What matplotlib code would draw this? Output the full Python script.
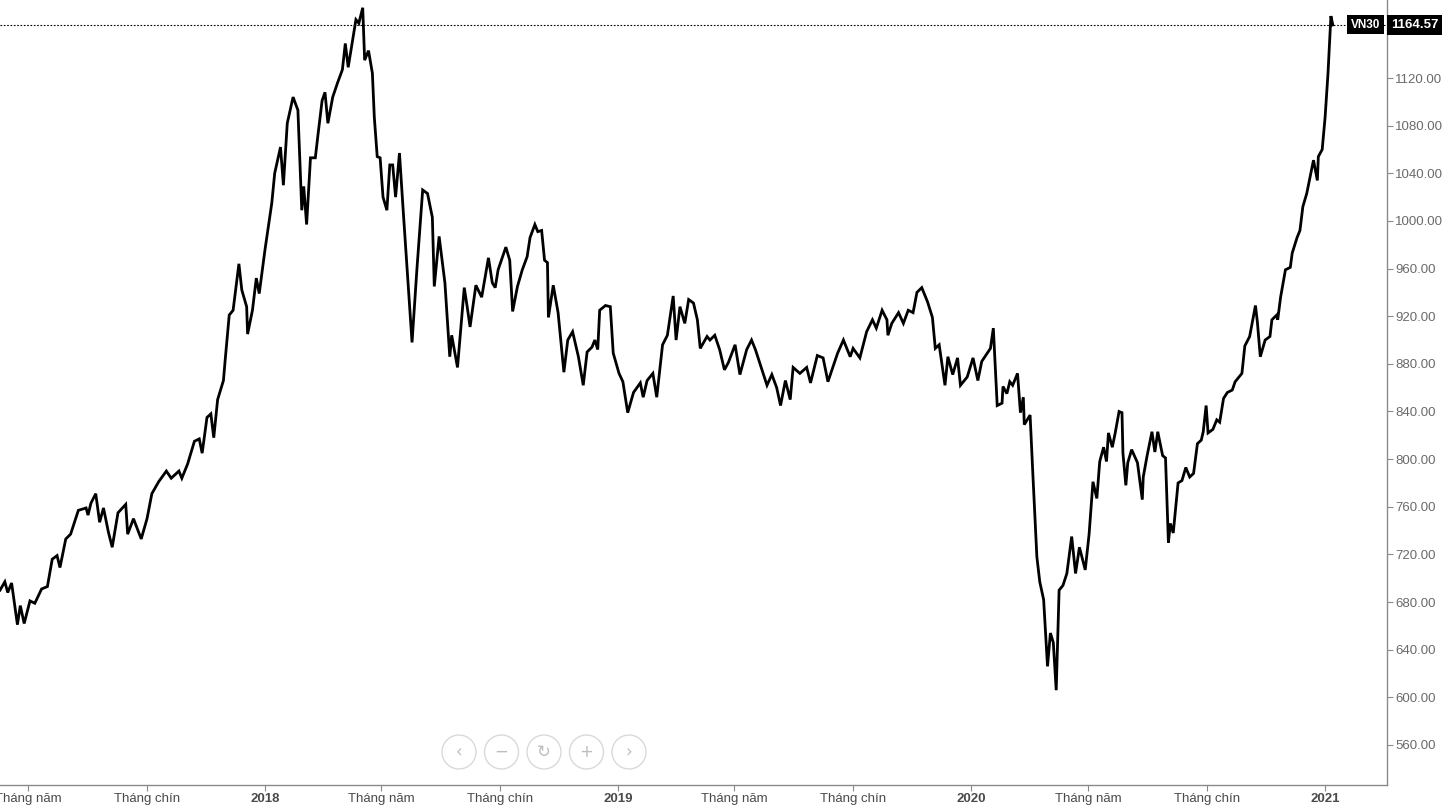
import matplotlib
matplotlib.use('Agg')
import matplotlib.pyplot as plt
import matplotlib.transforms as mtransforms
from matplotlib.patches import Ellipse
import pandas as pd

plt.rcParams['font.family'] = ['Liberation Sans', 'DejaVu Sans']

# VN30 closes (month-day, value) by year
d2017 = ['04-02', '04-07', '04-10', '04-14', '04-20', '04-23', '04-27', '05-03', '05-08', '05-15',
         '05-21', '05-26', '05-31', '06-03', '06-09', '06-14', '06-22', '06-30', '07-02', '07-05',
         '07-10', '07-14', '07-18', '07-23', '07-27', '08-02', '08-10', '08-12', '08-18', '08-26',
         '09-01', '09-06', '09-13', '09-21', '09-26', '10-04', '10-07', '10-13', '10-20', '10-25',
         '10-28', '11-02', '11-06', '11-09', '11-13', '11-19', '11-21', '11-25', '11-29', '12-05',
         '12-08', '12-13', '12-14', '12-19', '12-23', '12-26']
v2017 = [690, 697, 688, 696, 661, 677, 662, 681, 679, 691,
         693, 716, 719, 709, 733, 737, 757, 759, 753, 763,
         771, 747, 759, 739, 726, 755, 762, 737, 750, 733,
         750, 771, 781, 790, 784, 790, 784, 796, 815, 817,
         805, 835, 838, 818, 850, 866, 885, 921, 925, 964,
         942, 928, 905, 925, 952, 939]

d2018 = ['01-01', '01-08', '01-11', '01-17', '01-20', '01-24', '01-30', '02-04', '02-08', '02-10',
         '02-13', '02-17', '02-22', '02-25', '03-01', '03-04', '03-07', '03-12', '03-17', '03-22',
         '03-25', '03-28', '04-01', '04-05', '04-08', '04-12', '04-14', '04-18', '04-22', '04-24',
         '04-27', '04-30', '05-03', '05-07', '05-10', '05-13', '05-16', '05-20', '05-24', '05-28',
         '06-02', '06-07', '06-13', '06-18', '06-23', '06-25', '06-30', '07-06', '07-11', '07-13',
         '07-19', '07-26', '07-29', '08-01', '08-07', '08-13', '08-20', '08-24', '08-27', '08-30',
         '09-07', '09-11', '09-14', '09-19', '09-24', '09-29', '10-02', '10-07', '10-10', '10-14',
         '10-17', '10-20', '10-21', '10-26', '10-31', '11-06', '11-10', '11-15', '11-21', '11-26',
         '11-30', '12-05', '12-08', '12-11', '12-13', '12-19', '12-24', '12-27']
v2018 = [976, 1015, 1040, 1062, 1030, 1082, 1104, 1093, 1009, 1029,
         997, 1053, 1053, 1074, 1101, 1108, 1082, 1104, 1116, 1127,
         1149, 1129, 1149, 1169, 1166, 1179, 1135, 1143, 1124, 1087,
         1054, 1053, 1020, 1009, 1047, 1047, 1020, 1057, 1007, 959,
         898, 959, 1026, 1023, 1003, 945, 987, 948, 886, 904,
         877, 944, 928, 911, 946, 936, 969, 948, 944, 959,
         978, 967, 924, 945, 959, 970, 986, 997, 991, 992,
         967, 965, 919, 946, 923, 873, 900, 907, 886, 862,
         890, 894, 900, 892, 925, 929, 928, 889]

d2019 = ['01-02', '01-06', '01-11', '01-17', '01-24', '01-27', '01-31', '02-06', '02-10', '02-16',
         '02-21', '02-27', '03-02', '03-06', '03-11', '03-15', '03-20', '03-24', '03-27', '04-03',
         '04-06', '04-11', '04-16', '04-21', '04-25', '05-02', '05-07', '05-14', '05-19', '05-23',
         '05-27', '06-04', '06-09', '06-14', '06-18', '06-23', '06-28', '07-01', '07-08', '07-15',
         '07-19', '07-26', '08-01', '08-06', '08-11', '08-16', '08-22', '08-29', '09-01', '09-08',
         '09-15', '09-21', '09-25', '10-01', '10-06', '10-07', '10-11', '10-18', '10-23', '10-28',
         '11-02', '11-06', '11-11', '11-17', '11-22', '11-25', '11-29', '12-05', '12-08', '12-13',
         '12-18', '12-21', '12-28']
v2019 = [872, 865, 839, 856, 864, 852, 866, 872, 852, 896,
         904, 937, 900, 928, 914, 934, 931, 917, 893, 903,
         900, 904, 892, 875, 881, 896, 871, 892, 900, 892,
         882, 862, 871, 860, 845, 866, 850, 877, 872, 877,
         864, 887, 885, 865, 877, 889, 900, 886, 893, 885,
         907, 917, 910, 925, 917, 904, 914, 923, 914, 925,
         923, 940, 944, 932, 919, 893, 896, 862, 886, 871,
         885, 862, 869]

d2020 = ['01-03', '01-08', '01-12', '01-21', '01-24', '01-28', '02-02', '02-03', '02-07', '02-10',
         '02-13', '02-18', '02-21', '02-24', '02-25', '03-02', '03-05', '03-09', '03-12', '03-16',
         '03-20', '03-23', '03-26', '03-29', '04-01', '04-05', '04-09', '04-14', '04-18', '04-22',
         '04-28', '05-02', '05-06', '05-10', '05-13', '05-17', '05-20', '05-22', '05-26', '05-29',
         '06-02', '06-05', '06-06', '06-09', '06-11', '06-15', '06-21', '06-26', '06-27', '07-01',
         '07-06', '07-09', '07-12', '07-17', '07-20', '07-23', '07-25', '07-28', '08-02', '08-06',
         '08-10', '08-14', '08-18', '08-22', '08-26', '08-28', '08-31', '09-02', '09-07', '09-11',
         '09-14', '09-18', '09-22', '09-27', '09-30', '10-07', '10-10', '10-15', '10-21', '10-23',
         '10-26', '10-31', '11-05', '11-07', '11-12', '11-13', '11-16', '11-21', '11-26', '11-28',
         '12-03', '12-06', '12-09', '12-13', '12-17', '12-20', '12-24', '12-25', '12-29']
v2020 = [885, 866, 882, 893, 910, 845, 847, 861, 855, 865,
         862, 872, 839, 852, 829, 837, 785, 718, 697, 682,
         626, 654, 646, 606, 690, 694, 704, 735, 704, 726,
         707, 737, 781, 767, 798, 810, 798, 822, 810, 822,
         840, 839, 805, 778, 797, 808, 797, 766, 785, 803,
         823, 806, 823, 803, 801, 730, 746, 738, 780, 782,
         793, 785, 788, 813, 816, 823, 845, 822, 825, 833,
         831, 851, 856, 858, 865, 872, 895, 903, 929, 915,
         886, 900, 903, 917, 921, 917, 936, 959, 961, 973,
         986, 992, 1012, 1023, 1039, 1051, 1034, 1054, 1060]

d2021 = ['01-01', '01-04', '01-07', '01-09']
v2021 = [1087, 1124, 1172, 1164.57]

last_value = 1164.57
series_name = 'VN30'

tick_dates = ['2017-05-01', '2017-09-01', '2018-01-01', '2018-05-01', '2018-09-01', '2019-01-01',
              '2019-05-01', '2019-09-01', '2020-01-01', '2020-05-01', '2020-09-01', '2021-01-01']
tick_labels = ['Tháng năm', 'Tháng chín', '2018', 'Tháng năm', 'Tháng chín', '2019',
               'Tháng năm', 'Tháng chín', '2020', 'Tháng năm', 'Tháng chín', '2021']
y_ticks = list(range(560, 1121, 40))

dates = []
values = []
for year, ds, vs in [(2017, d2017, v2017), (2018, d2018, v2018), (2019, d2019, v2019),
                     (2020, d2020, v2020), (2021, d2021, v2021)]:
    dates += [f'{year}-{d}' for d in ds]
    values += vs
dates = pd.to_datetime(dates)

fig = plt.figure(figsize=(14.44, 8.11), dpi=100)
ax = fig.add_axes([0, 1 - 785 / 811, 1387 / 1444, 785 / 811])

ax.plot(dates, values, color='black', lw=2.0, solid_joinstyle='miter')

# dotted last-price line
ax.axhline(last_value, color='black', lw=0.8, ls=(0, (1.5, 1.5)), zorder=1)

ax.set_xlim(pd.Timestamp('2017-04-02'), pd.Timestamp('2021-03-06'))
ax.set_ylim(526.4, 1185.5)

ax.set_xticks(pd.to_datetime(tick_dates))
ax.set_xticklabels(tick_labels)
for lbl in ax.get_xticklabels():
    if lbl.get_text().isdigit():
        lbl.set_fontweight('bold')

ax.yaxis.tick_right()
ax.set_yticks(y_ticks)
ax.set_yticklabels([f'{v:.2f}' for v in y_ticks])

for side in ['left', 'top']:
    ax.spines[side].set_visible(False)
for side in ['right', 'bottom']:
    ax.spines[side].set_color('#8a8a8a')
    ax.spines[side].set_linewidth(1.0)

ax.tick_params(axis='x', direction='out', length=4, width=0.8, color='#8a8a8a',
               labelcolor='#4a4a4a', labelsize=9.5, pad=2)
ax.tick_params(axis='y', direction='out', length=4, width=0.8, color='#8a8a8a',
               labelcolor='#6a6a6a', labelsize=9.5, pad=2)

# price labels on the right
trans = mtransforms.blended_transform_factory(ax.transAxes, ax.transData)
ax.text(1380 / 1387, last_value, series_name, transform=trans, ha='right', va='center',
        color='white', fontsize=8.5, fontweight='bold',
        bbox=dict(boxstyle='square,pad=0.3', fc='black', ec='none'), zorder=5)
ax.text(1391 / 1387, last_value, f'{last_value:.2f}', transform=trans, ha='left', va='center',
        color='white', fontsize=9.5, fontweight='bold', clip_on=False,
        bbox=dict(boxstyle='square,pad=0.3', fc='black', ec='none'), zorder=5)

# zoom / navigation buttons
icons = ['‹', '−', '↻', '+', '›']
for i, icon in enumerate(icons):
    cx = (459 + i * 42.5) / 1444
    cy = 1 - 752 / 811
    fig.patches.append(Ellipse((cx, cy), 34 / 1444, 34 / 811, transform=fig.transFigure,
                               fc='white', ec='#d9d9d9', lw=1.0))
    fig.text(cx, cy, icon, ha='center', va='center', color='#bdbdbd', fontsize=12,
             family=['DejaVu Sans'])

fig.savefig('out.png', dpi=100, facecolor='white')
